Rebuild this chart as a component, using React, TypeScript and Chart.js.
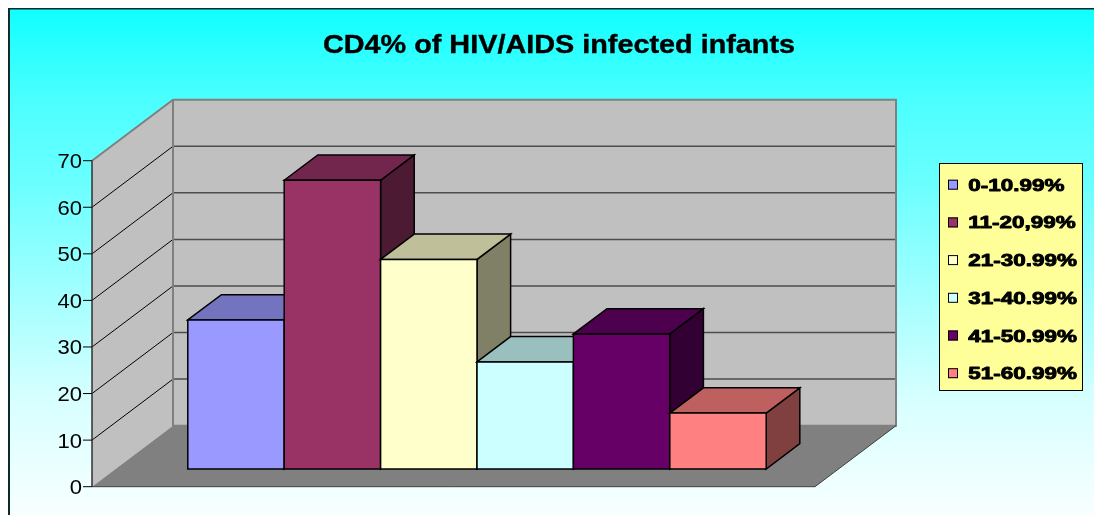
import { useEffect, useRef } from "react";
import { Chart, registerables } from "chart.js";

Chart.register(...registerables);

// ---- chart content ----
const TITLE = "CD4% of HIV/AIDS infected infants";
const CATEGORIES = ["0-10.99%", "11-20,99%", "21-30.99%", "31-40.99%", "41-50.99%", "51-60.99%"];
const VALUES = [32, 62, 45, 23, 29, 12];
const COLORS = ["#9999FF", "#993366", "#FFFFCC", "#CCFFFF", "#660066", "#FF8080"];
const TICKS = [0, 10, 20, 30, 40, 50, 60, 70];
const Y_MAX = 70;

// ---- 3D projection settings ----
const DEPTH = { x: 81, y: -61 }; // floor depth vector, front edge -> back wall
const BAR_FRONT = 0.29; // depth fraction where the bar fronts sit (chart area plane)
const BAR_DEPTH = 0.415; // bar thickness as a fraction of the floor depth
const FONT = "'Liberation Sans', Arial, Helvetica, sans-serif";

function shade(hex: string, f: number): string {
  const n = parseInt(hex.slice(1), 16);
  const r = Math.round(((n >> 16) & 255) * f);
  const g = Math.round(((n >> 8) & 255) * f);
  const b = Math.round((n & 255) * f);
  return `rgb(${r},${g},${b})`;
}

function stretchedText(
  ctx: CanvasRenderingContext2D,
  text: string,
  x: number,
  y: number,
  sx: number,
  align: CanvasTextAlign,
  heavy = 0
) {
  ctx.save();
  ctx.translate(x, y);
  ctx.scale(sx, 1);
  ctx.textAlign = align;
  ctx.textBaseline = "alphabetic";
  ctx.fillText(text, 0, 0);
  if (heavy > 0) {
    ctx.strokeStyle = ctx.fillStyle as string;
    ctx.lineWidth = heavy;
    ctx.lineJoin = "round";
    ctx.strokeText(text, 0, 0);
  }
  ctx.restore();
}

function poly(ctx: CanvasRenderingContext2D, pts: { x: number; y: number }[], fill: string | null, stroke: string | null, lw = 1) {
  ctx.beginPath();
  ctx.moveTo(pts[0].x, pts[0].y);
  for (let i = 1; i < pts.length; i++) ctx.lineTo(pts[i].x, pts[i].y);
  ctx.closePath();
  if (fill) {
    ctx.fillStyle = fill;
    ctx.fill();
  }
  if (stroke) {
    ctx.strokeStyle = stroke;
    ctx.lineWidth = lw;
    ctx.stroke();
  }
}

const excel3d = {
  id: "excel3d",
  beforeDraw(chart: any) {
    const { ctx, width, height } = chart;
    ctx.save();
    const g = ctx.createLinearGradient(0, 0, 0, height);
    g.addColorStop(0, "rgb(16,255,255)");
    g.addColorStop(0.181, "rgb(75,255,255)");
    g.addColorStop(0.339, "rgb(105,255,255)");
    g.addColorStop(0.773, "rgb(215,255,255)");
    g.addColorStop(1, "rgb(248,255,255)");
    ctx.fillStyle = g;
    ctx.fillRect(0, 0, width, height);
    // outer frame (left and top edges are in view)
    ctx.strokeStyle = "#0c2a2a";
    ctx.lineWidth = 2;
    ctx.beginPath();
    ctx.moveTo(1, height);
    ctx.lineTo(1, 0.5);
    ctx.lineTo(width + 2, 0.5);
    ctx.stroke();
    ctx.restore();
  },
  beforeDatasetsDraw(chart: any) {
    const { ctx, chartArea } = chart;
    const yScale = chart.scales.y;
    const L = chartArea.left;
    const R = chartArea.right;
    const proj = (px: number, v: number, d: number) => ({
      x: px + (d - BAR_FRONT) * DEPTH.x,
      y: yScale.getPixelForValue(v) + (d - BAR_FRONT) * DEPTH.y,
    });

    ctx.save();
    ctx.lineJoin = "miter";

    // walls and floor
    poly(ctx, [proj(L, 0, 0), proj(L, Y_MAX, 0), proj(L, Y_MAX, 1), proj(L, 0, 1)], "#C0C0C0", null);
    poly(ctx, [proj(L, 0, 1), proj(L, Y_MAX, 1), proj(R, Y_MAX, 1), proj(R, 0, 1)], "#C0C0C0", null);
    poly(ctx, [proj(L, 0, 0), proj(R, 0, 0), proj(R, 0, 1), proj(L, 0, 1)], "#808080", null);

    // gridlines on the back and side walls
    for (const v of TICKS) {
      if (v === 0 || v === Y_MAX) continue;
      const a = proj(L, v, 1);
      const b = proj(R, v, 1);
      ctx.strokeStyle = "#4d4d4d";
      ctx.lineWidth = 1.5;
      ctx.beginPath();
      ctx.moveTo(a.x, a.y);
      ctx.lineTo(b.x, b.y);
      ctx.stroke();
      const f = proj(L, v, 0);
      ctx.strokeStyle = "#000";
      ctx.lineWidth = 1;
      ctx.beginPath();
      ctx.moveTo(f.x, f.y);
      ctx.lineTo(a.x, a.y);
      ctx.stroke();
    }

    // wall edges
    ctx.strokeStyle = "#808080";
    ctx.lineWidth = 2;
    ctx.beginPath();
    const e1 = proj(L, Y_MAX, 0);
    const e2 = proj(L, Y_MAX, 1);
    const e3 = proj(R, Y_MAX, 1);
    const e4 = proj(R, 0, 1);
    const e5 = proj(L, 0, 1);
    ctx.moveTo(e1.x, e1.y);
    ctx.lineTo(e2.x, e2.y);
    ctx.lineTo(e3.x, e3.y);
    ctx.lineTo(e4.x, e4.y);
    ctx.lineTo(e5.x, e5.y);
    ctx.lineTo(e2.x, e2.y);
    ctx.stroke();

    // floor outer edges
    const f0 = proj(L, 0, 0);
    const f1 = proj(R, 0, 0);
    ctx.strokeStyle = "#404040";
    ctx.lineWidth = 1;
    ctx.beginPath();
    ctx.moveTo(f0.x, f0.y);
    ctx.lineTo(f1.x, f1.y);
    ctx.lineTo(e4.x, e4.y);
    ctx.stroke();

    // value axis on the front edge
    ctx.strokeStyle = "#303030";
    ctx.lineWidth = 1.5;
    ctx.beginPath();
    ctx.moveTo(f0.x, f0.y);
    ctx.lineTo(e1.x, e1.y);
    ctx.stroke();
    ctx.fillStyle = "#000";
    ctx.font = `21px ${FONT}`;
    for (const v of TICKS) {
      const p = proj(L, v, 0);
      ctx.strokeStyle = "#000";
      ctx.lineWidth = 1;
      ctx.beginPath();
      ctx.moveTo(p.x - 9, p.y);
      ctx.lineTo(p.x, p.y);
      ctx.stroke();
      stretchedText(ctx, String(v), p.x - 10, p.y + 7.5, 1.05, "right");
    }

    // bars, left to right so nearer faces overlap
    const dx = BAR_DEPTH * DEPTH.x;
    const dy = BAR_DEPTH * DEPTH.y;
    chart.data.datasets.forEach((ds: any, i: number) => {
      const meta = chart.getDatasetMeta(i);
      meta.data.forEach((el: any) => {
        const { x, y, base, width } = el.getProps(["x", "y", "base", "width"], true);
        const l = x - width / 2;
        const r = x + width / 2;
        const c = ds.backgroundColor as string;
        poly(ctx, [{ x: r, y }, { x: r + dx, y: y + dy }, { x: r + dx, y: base + dy }, { x: r, y: base }], shade(c, 0.5), "#000", 1.5);
        poly(ctx, [{ x: l, y }, { x: l + dx, y: y + dy }, { x: r + dx, y: y + dy }, { x: r, y }], shade(c, 0.75), "#000", 1.5);
        poly(ctx, [{ x: l, y }, { x: r, y }, { x: r, y: base }, { x: l, y: base }], c, "#000", 1.5);
      });
    });
    ctx.restore();
    return false;
  },
  afterDraw(chart: any) {
    const { ctx } = chart;
    ctx.save();
    // title
    ctx.fillStyle = "#000";
    ctx.font = `bold 26.5px ${FONT}`;
    stretchedText(ctx, TITLE, 551, 45, 1.087, "center", 0.4);

    // legend
    ctx.fillStyle = "#FFFF99";
    ctx.fillRect(931, 155, 144, 228);
    ctx.strokeStyle = "#000";
    ctx.lineWidth = 1;
    ctx.strokeRect(931.5, 155.5, 143, 227);
    ctx.font = `bold 17px ${FONT}`;
    chart.data.datasets.forEach((ds: any, i: number) => {
      const baseline = 182.7 + i * 37.7;
      ctx.fillStyle = ds.backgroundColor;
      ctx.fillRect(940, baseline - 11, 10, 10);
      ctx.strokeStyle = "#000";
      ctx.lineWidth = 1;
      ctx.strokeRect(940.5, baseline - 10.5, 9, 9);
      ctx.fillStyle = "#000";
      stretchedText(ctx, ds.label, 960.3, baseline, 1.32, "left", 0.9);
    });
    ctx.restore();
  },
};

export default function App() {
  const canvasRef = useRef<HTMLCanvasElement | null>(null);

  useEffect(() => {
    if (!canvasRef.current) return;
    const chart = new Chart(canvasRef.current, {
      type: "bar",
      data: {
        labels: [""],
        datasets: CATEGORIES.map((label, i) => ({
          label,
          data: [VALUES[i]],
          backgroundColor: COLORS[i],
          borderColor: "#000",
          borderWidth: 1.5,
          barPercentage: 1,
          categoryPercentage: 0.8,
        })),
      },
      options: {
        responsive: false,
        animation: false,
        layout: { padding: { left: 107.5, right: 271.5, top: 135, bottom: 46 } },
        scales: {
          x: { display: false },
          y: { display: false, min: 0, max: Y_MAX },
        },
        plugins: {
          legend: { display: false },
          title: { display: false },
          tooltip: { enabled: false },
        },
      },
      plugins: [excel3d],
    });
    return () => chart.destroy();
  }, []);

  return (
    <div style={{ width: 1094, height: 507, overflow: "hidden" }}>
      <canvas ref={canvasRef} width={1102} height={507} style={{ display: "block" }} />
    </div>
  );
}
